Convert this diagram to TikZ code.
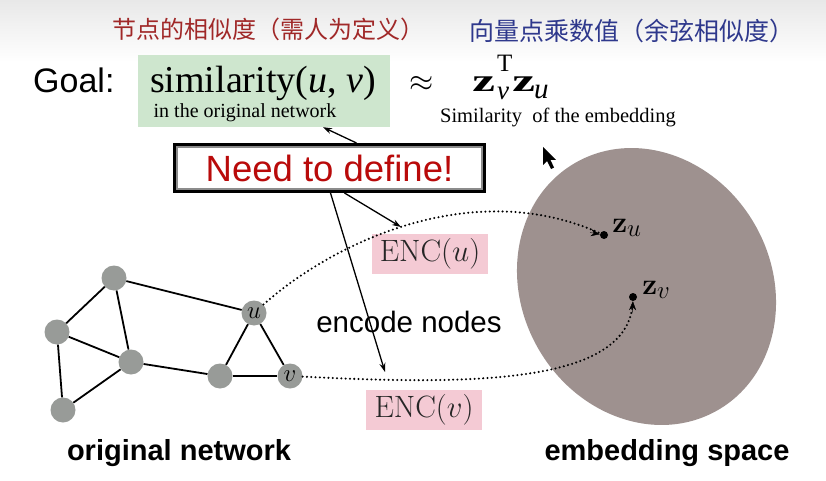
\RequirePackage{fix-cm}
\documentclass[tikz,border=0pt]{standalone}
\usepackage[no-math]{fontspec}
\setmainfont{Liberation Serif}
\newfontfamily\arial{Liberation Sans}
\newfontfamily\cjk{Noto Sans CJK SC}
\usetikzlibrary{arrows.meta}
\definecolor{ngray}{RGB}{152,155,152}
\definecolor{ellc}{RGB}{158,145,143}
\definecolor{greenc}{RGB}{206,230,206}
\definecolor{pinkc}{RGB}{244,202,212}
\definecolor{needred}{RGB}{185,10,10}
\definecolor{cnred}{RGB}{160,40,40}
\definecolor{cnblue}{RGB}{46,56,140}
\begin{document}
\begin{tikzpicture}[x=1pt,y=-1pt,
  gnode/.style={circle,fill=ngray,minimum size=25pt,inner sep=0pt,font=\fontsize{24.88}{25}\selectfont},
  edge/.style={line width=1.8pt},
  dotline/.style={line width=2.3pt,dash pattern=on 0pt off 4.3pt,line cap=round},
  arr/.style={line width=1.3pt,-{Stealth[length=9pt,width=6pt]}},
  darr/.style={-{Stealth[length=9pt,width=7pt]}},
  zdot/.style={circle,fill=black,minimum size=8pt,inner sep=0pt},
  encbox/.style={fill=pinkc,inner sep=0pt,minimum width=116pt,minimum height=40pt},
  enctext/.style={inner sep=0pt,text=black!85,font=\fontsize{24.88}{25}\selectfont,scale=1.24},
  zlab/.style={anchor=west,inner sep=0pt,font=\fontsize{24.88}{25}\selectfont,scale=1.2},
  zbold/.style={anchor=base west,inner sep=0pt,font=\bfseries\fontsize{32}{32}\selectfont,xscale=1.6},
  zsub/.style={anchor=base west,inner sep=0pt,font=\itshape\fontsize{27}{27}\selectfont},
]
\useasboundingbox (0,0) rectangle (826,481);
\fill[white] (0,0) rectangle (826,481);
\shade[top color=black!9,bottom color=white] (0,0) rectangle (826,62);

% Chinese annotations
\node[font=\cjk\fontsize{24}{24}\selectfont,text=cnred] (cn1) at (268,29) {节点的相似度（需人为定义）};
\node[font=\cjk\fontsize{25}{25}\selectfont,text=cnblue] (cn2) at (632,31) {向量点乘数值（余弦相似度）};

% Goal line
\node[fill=greenc,minimum width=252pt,minimum height=72pt] (gbox) at (264,91) {};
\node[font=\arial\fontsize{34}{36}\selectfont,anchor=base west,inner sep=0pt] (goal) at (33,93) {Goal:};
\node[font=\fontsize{38}{40}\selectfont,anchor=base,inner sep=0pt] (sim) at (263,93) {similarity(\textit{u}, \textit{v})};
\node[font=\fontsize{20}{20}\selectfont,inner sep=0pt] (orig) at (245,113) {in the original\ network};
\node[font=\fontsize{24.88}{25}\selectfont,inner sep=0pt,scale=1.25] (approx) at (422,84) {$\approx$};
\node[zbold] (z1) at (472,92) {z};
\node[anchor=base west,inner sep=0pt,font=\fontsize{25}{25}\selectfont] (tsup) at (497,72) {T};
\node[zsub] (vsub) at (497,100) {v};
\node[zbold] (z2) at (512,92) {z};
\node[zsub,font=\itshape\fontsize{29}{29}\selectfont] (usub) at (534,99) {u};
\node[font=\fontsize{20.5}{21}\selectfont,inner sep=0pt] (simemb) at (558,117) {Similarity\ \ of the embedding};

% Need to define box
\node[draw=black,line width=3pt,fill=white,minimum width=310pt,minimum height=47pt,inner sep=0pt,
      font=\arial\fontsize{36.5}{37}\selectfont,text=needred] (need) at (329.5,168) {Need to define!};
\draw[black!45,line width=1.2pt] ([shift={(4pt,-4pt)}]need.north west) rectangle ([shift={(-4pt,4pt)}]need.south east);

% ENC boxes
\node[encbox] (encu) at (430,254) {};
\node[enctext] (encut) at (encu) {$\mathrm{ENC}(u)$};
\node[encbox] (encv) at (424,410) {};
\node[enctext] (encvt) at (encv) {$\mathrm{ENC}(v)$};
\node[font=\arial\fontsize{29.5}{30}\selectfont,inner sep=0pt] (encn) at (409,322) {encode nodes};

% embedding space
\fill[ellc,rotate around={-60:(646.5,286.5)}] (646.5,286.5) ellipse [x radius=142.7pt,y radius=124.8pt];
\node[zdot] (zu) at (604,235) {};
\node[zdot] (zv) at (633,297) {};
\node[zlab] (zul) at (612,228) {$\mathbf{z}_u$};
\node[zlab] (zvl) at (642,290) {$\mathbf{z}_v$};

% graph
\node[gnode] (a) at (114,278) {};
\node[gnode] (b) at (57,332) {};
\node[gnode] (c) at (131,362) {};
\node[gnode] (d) at (63,410) {};
\node[gnode] (e) at (220,376) {};
\node[gnode] (u) at (254,313) {$u$};
\node[gnode] (v) at (290,376) {$v$};
\draw[edge] (a) -- (u);
\draw[edge] (a) -- (b);
\draw[edge] (a) -- (c);
\draw[edge] (b) -- (c);
\draw[edge] (b) -- (d);
\draw[edge] (d) -- (c);
\draw[edge] (c) -- (e);
\draw[edge] (e) -- (u);
\draw[edge] (e) -- (v);
\draw[edge] (u) -- (v);

% dotted mappings
\draw[dotline] (u) .. controls (330,245) and (470,175) .. (zu);
\draw[darr] (590,232.5) -- (zu);
\draw[dotline] (v) .. controls (470,385) and (630,385) .. (zv);
\draw[darr] (632.5,313) -- (zv);

% arrows from Need to define
\coordinate (hitu) at (401,227);
\coordinate (hitv) at (385,372);
\draw[arr] ([xshift=27pt]need.north) -- ([xshift=59pt]gbox.south);
\draw[arr] ([xshift=15pt]need.south) -- (hitu);
\draw[arr] ([xshift=1pt]need.south) -- (hitv);

% labels
\node[font=\arial\bfseries\fontsize{29}{30}\selectfont,inner sep=0pt] (onet) at (179,453) {original network};
\node[font=\arial\bfseries\fontsize{29}{30}\selectfont,inner sep=0pt] (espace) at (667,453) {embedding space};

% mouse cursor
\fill[black] (543,147) -- (543,165) -- (547,161) -- (551,169) -- (554,167.5) -- (550.5,160) -- (556,160) -- cycle;
\end{tikzpicture}
\end{document}
